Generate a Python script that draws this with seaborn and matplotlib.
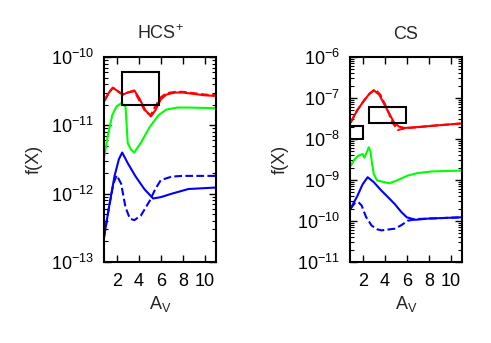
import numpy as np
import pandas as pd
import matplotlib
matplotlib.use("Agg")
import matplotlib.pyplot as plt
import seaborn as sns
from matplotlib.patches import Rectangle
from matplotlib.ticker import FixedLocator, NullFormatter

sns.set_theme(style="ticks")
plt.rcParams['font.family'] = ['Liberation Sans', 'DejaVu Sans']
plt.rcParams['mathtext.fontset'] = 'custom'
plt.rcParams['mathtext.rm'] = 'Liberation Sans'
plt.rcParams['mathtext.it'] = 'Liberation Sans'
plt.rcParams['mathtext.default'] = 'regular'

titles = [r"$\mathregular{HCS^{+}}$", "CS"]

# ---- HCS+ panel ----
hcs_red_x = [0.85, 1.3, 1.65, 2.1, 2.55, 3.0, 3.6, 4.1, 4.6, 5.1, 5.5, 6.0, 6.5, 7.3, 8.0, 9.0, 10.0, 11.0]
hcs_red_y = [2.24e-11, 3.02e-11, 3.55e-11, 3.16e-11, 2.82e-11, 3.02e-11, 3.24e-11, 2.40e-11, 1.66e-11, 1.35e-11,
             1.66e-11, 2.40e-11, 2.82e-11, 3.02e-11, 3.02e-11, 2.88e-11, 2.75e-11, 2.69e-11]
hcs_red_d_x = [0.85, 1.3, 1.65, 2.1, 2.55, 3.0, 3.6, 4.1, 4.6, 5.1, 5.5, 6.0, 6.5, 7.3, 8.0, 9.0, 10.0, 11.0]
hcs_red_d_y = [2.24e-11, 3.02e-11, 3.55e-11, 3.16e-11, 2.82e-11, 3.02e-11, 3.16e-11, 2.24e-11, 1.58e-11, 1.41e-11,
               1.90e-11, 2.57e-11, 2.95e-11, 3.09e-11, 3.09e-11, 2.95e-11, 2.82e-11, 2.75e-11]
hcs_green_x = [0.85, 1.2, 1.6, 2.0, 2.4, 2.8, 3.0, 3.3, 3.6, 4.2, 5.0, 5.8, 6.5, 7.5, 8.5, 11.0]
hcs_green_y = [3.3e-12, 7.1e-12, 1.41e-11, 1.9e-11, 2.1e-11, 1.9e-11, 5.5e-12, 4.4e-12, 4.0e-12, 5.6e-12,
               9.5e-12, 1.41e-11, 1.7e-11, 1.82e-11, 1.82e-11, 1.78e-11]
hcs_blue_x = [0.85, 1.3, 1.8, 2.2, 2.5, 3.0, 3.7, 4.5, 5.3, 6.0, 7.0, 8.5, 11.0]
hcs_blue_y = [2.3e-13, 6.3e-13, 1.8e-12, 3.2e-12, 4.0e-12, 2.8e-12, 1.8e-12, 1.17e-12, 8.5e-13, 8.9e-13,
              1.0e-12, 1.17e-12, 1.23e-12]
hcs_blue_d_x = [0.85, 1.3, 1.7, 2.0, 2.4, 2.8, 3.2, 3.6, 4.2, 5.0, 5.5, 6.0, 7.0, 8.0, 11.0]
hcs_blue_d_y = [2.3e-13, 6.3e-13, 1.4e-12, 1.86e-12, 1.4e-12, 6.3e-13, 4.3e-13, 4.1e-13, 4.8e-13, 7.9e-13,
                1.17e-12, 1.58e-12, 1.78e-12, 1.82e-12, 1.82e-12]
hcs_boxes = [(2.5, 5.8, 2.0e-11, 6.0e-11)]
hcs_yticks = [1e-13, 1e-12, 1e-11, 1e-10]

# ---- CS panel ----
cs_red_x = [0.9, 1.5, 2.1, 2.6, 3.0, 3.5, 3.95, 4.4, 4.85, 5.3, 5.8, 7.0, 8.3, 11.0]
cs_red_y = [2.5e-8, 5.0e-8, 8.5e-8, 1.26e-7, 1.55e-7, 1.2e-7, 7.1e-8, 4.2e-8, 2.5e-8, 2.0e-8, 1.86e-8,
            1.95e-8, 2.1e-8, 2.4e-8]
cs_red_d_x = [0.9, 1.5, 2.1, 2.6, 3.15, 3.6, 4.2, 4.7, 5.2, 5.8, 7.0, 8.3, 11.0]
cs_red_d_y = [2.5e-8, 5.0e-8, 8.5e-8, 1.26e-7, 1.62e-7, 1.2e-7, 5.6e-8, 2.5e-8, 1.66e-8, 1.82e-8,
              1.95e-8, 2.1e-8, 2.4e-8]
cs_green_x = [0.9, 1.3, 1.6, 2.0, 2.15, 2.4, 2.55, 2.7, 2.85, 3.0, 3.3, 4.4, 5.2, 6.1, 7.0, 8.3, 11.0]
cs_green_y = [2.2e-9, 3.3e-9, 3.9e-9, 4.3e-9, 3.5e-9, 5.0e-9, 6.3e-9, 5.0e-9, 2.5e-9, 1.41e-9, 9.8e-10,
              8.3e-10, 1.0e-9, 1.29e-9, 1.48e-9, 1.62e-9, 1.7e-9]
cs_blue_x = [0.9, 1.5, 2.0, 2.45, 3.0, 3.7, 4.3, 4.9, 5.5, 6.0, 6.8, 8.0, 11.0]
cs_blue_y = [2.0e-10, 4.0e-10, 7.9e-10, 1.17e-9, 8.9e-10, 5.5e-10, 3.8e-10, 2.6e-10, 1.66e-10, 1.23e-10,
             1.07e-10, 1.15e-10, 1.23e-10]
cs_blue_d_x = [0.9, 1.3, 1.6, 1.9, 2.3, 2.8, 3.3, 3.7, 4.9, 5.5, 6.1, 7.0, 11.0]
cs_blue_d_y = [2.0e-10, 2.75e-10, 2.9e-10, 2.4e-10, 1.26e-10, 7.8e-11, 6.3e-11, 5.9e-11, 6.5e-11, 7.9e-11,
               1.02e-10, 1.12e-10, 1.23e-10]
cs_boxes = [(2.6, 5.9, 2.4e-8, 6.2e-8), (0.85, 2.0, 1.0e-8, 2.1e-8)]
cs_yticks = [1e-11, 1e-10, 1e-9, 1e-8, 1e-7, 1e-6]

x_ticks = [2, 4, 6, 8, 10]

RED, GREEN, BLUE = "#ff0000", "#00ff00", "#0000ff"
panels = [
    dict(title=titles[0], yticks=hcs_yticks, boxes=hcs_boxes,
         series=[(hcs_red_x, hcs_red_y, RED, "-"), (hcs_red_d_x, hcs_red_d_y, RED, "--"),
                 (hcs_green_x, hcs_green_y, GREEN, "-"),
                 (hcs_blue_x, hcs_blue_y, BLUE, "-"), (hcs_blue_d_x, hcs_blue_d_y, BLUE, "--")]),
    dict(title=titles[1], yticks=cs_yticks, boxes=cs_boxes,
         series=[(cs_red_x, cs_red_y, RED, "-"), (cs_red_d_x, cs_red_d_y, RED, "--"),
                 (cs_green_x, cs_green_y, GREEN, "-"),
                 (cs_blue_x, cs_blue_y, BLUE, "-"), (cs_blue_d_x, cs_blue_d_y, BLUE, "--")]),
]

fig = plt.figure(figsize=(4.91, 3.43), dpi=100)
lefts = [104 / 491, 350 / 491]
for left, p in zip(lefts, panels):
    ax = fig.add_axes([left, 81 / 343, 112 / 491, 205 / 343])
    for xs, ys, c, ls in p["series"]:
        df = pd.DataFrame({"x": xs, "y": ys})
        sns.lineplot(data=df, x="x", y="y", ax=ax, color=c, linestyle=ls, linewidth=1.5,
                     estimator=None, sort=False)
    for x0, x1, y0, y1 in p["boxes"]:
        ax.add_patch(Rectangle((x0, y0), x1 - x0, y1 - y0, fill=False, edgecolor="black", linewidth=1.5, zorder=5))
    ax.set_yscale("log")
    yt = p["yticks"]
    ax.set_ylim(yt[0], yt[-1])
    ax.set_xlim(0.85, 11.0)
    ax.set_xticks(x_ticks)
    ax.yaxis.set_major_locator(FixedLocator(yt))
    minors = [m * d for d in yt[:-1] for m in range(2, 10)]
    ax.yaxis.set_minor_locator(FixedLocator(minors))
    ax.yaxis.set_minor_formatter(NullFormatter())
    ax.tick_params(which="both", direction="in", top=True, right=True, labelsize=13, colors="black")
    ax.tick_params(which="major", length=5, width=1)
    ax.tick_params(which="minor", length=3, width=0.8)
    ax.tick_params(axis="x", pad=8)
    ax.tick_params(axis="y", pad=7)
    for s in ax.spines.values():
        s.set_linewidth(1.5)
        s.set_color("black")
    ax.set_title(p["title"], fontsize=13, pad=13)
    ax.set_xlabel("A$_V$", fontsize=13, labelpad=3)
    ax.set_ylabel("f(X)", fontsize=13, labelpad=6)

fig.savefig("out.png", dpi=100)
